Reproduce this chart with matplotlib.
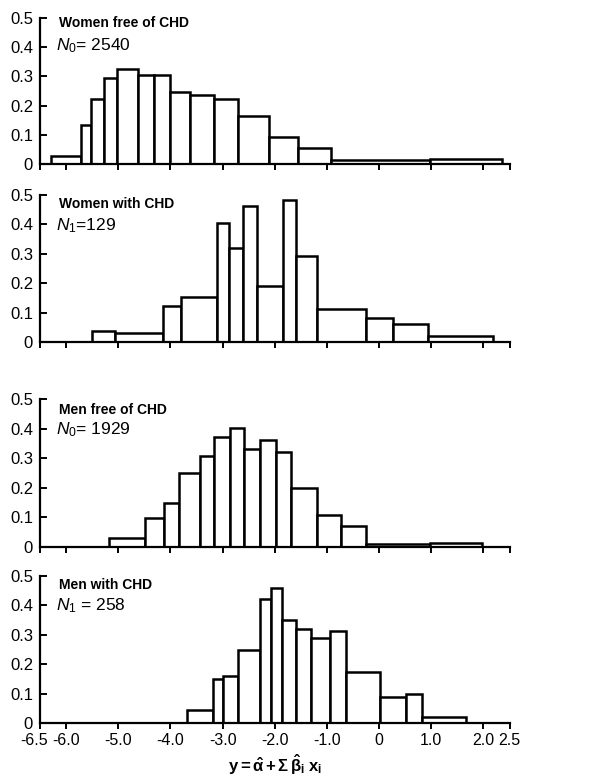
import numpy as np
import matplotlib
matplotlib.use("Agg")
import matplotlib.pyplot as plt
from matplotlib.transforms import ScaledTranslation

plt.rcParams["font.family"] = ["Liberation Sans", "DejaVu Sans"]
plt.rcParams["mathtext.fontset"] = "custom"
plt.rcParams["mathtext.rm"] = "Liberation Sans"
plt.rcParams["mathtext.it"] = "Liberation Sans:italic"
plt.rcParams["mathtext.bf"] = "Liberation Sans:bold"

# bin edges and relative frequencies
women_free_edges = [-6.29, -5.72, -5.52, -5.27, -5.02, -4.62, -4.32, -4.00, -3.62,
                    -3.16, -2.71, -2.12, -1.56, -0.92, 0.98, 2.35]
women_free_freq = [0.027, 0.135, 0.224, 0.294, 0.326, 0.304, 0.304, 0.248, 0.238,
                   0.222, 0.165, 0.092, 0.054, 0.014, 0.017]

women_chd_edges = [-5.51, -5.06, -4.15, -3.80, -3.11, -2.88, -2.60, -2.34, -1.85,
                   -1.60, -1.20, -0.25, 0.26, 0.93, 2.19]
women_chd_freq = [0.038, 0.031, 0.121, 0.152, 0.405, 0.320, 0.463, 0.191, 0.483,
                  0.294, 0.112, 0.081, 0.061, 0.020]

men_free_edges = [-5.17, -4.49, -4.13, -3.84, -3.44, -3.16, -2.86, -2.59, -2.28,
                  -1.98, -1.69, -1.20, -0.74, -0.25, 0.98, 1.97]
men_free_freq = [0.031, 0.097, 0.149, 0.250, 0.307, 0.371, 0.402, 0.332, 0.362,
                 0.320, 0.199, 0.108, 0.072, 0.011, 0.013]

men_chd_edges = [-3.68, -3.18, -3.00, -2.70, -2.29, -2.07, -1.87, -1.60, -1.30,
                 -0.94, -0.63, 0.01, 0.52, 0.82, 1.67]
men_chd_freq = [0.043, 0.149, 0.160, 0.249, 0.423, 0.460, 0.350, 0.319, 0.290,
                0.314, 0.172, 0.089, 0.098, 0.022]

titles = ["Women free of CHD", "Women with CHD", "Men free of CHD", "Men with CHD"]
counts = [r"$\mathit{N}_0$= 2540", r"$\mathit{N}_1$=129",
          r"$\mathit{N}_0$= 1929", r"$\mathit{N}_1$ = 258"]

x_ticks = [-6.5, -6.0, -5.0, -4.0, -3.0, -2.0, -1.0, 0, 1.0, 2.0, 2.5]
x_tick_labels = ["-6.5", "-6.0", "-5.0", "-4.0", "-3.0", "-2.0", "-1.0", "0",
                 "1.0", "2.0", "2.5"]
y_ticks = [0, 0.1, 0.2, 0.3, 0.4, 0.5]
y_tick_labels = ["0", "0.1", "0.2", "0.3", "0.4", "0.5"]

panels = [(women_free_edges, women_free_freq), (women_chd_edges, women_chd_freq),
          (men_free_edges, men_free_freq), (men_chd_edges, men_chd_freq)]

# axes boxes in figure fraction (left, bottom, width, height)
boxes = [(0.0667, 0.7900, 0.7826, 0.1869),
         (0.0667, 0.5621, 0.7826, 0.1882),
         (0.0667, 0.2996, 0.7826, 0.1895),
         (0.0667, 0.0743, 0.7826, 0.1882)]
title_y = [0.966, 0.940, 0.926, 0.939]
count_y = [0.81, 0.79, 0.79, 0.80]

fig = plt.figure(figsize=(6.0, 7.81), dpi=100)

for i, ((edges, freq), box) in enumerate(zip(panels, boxes)):
    ax = fig.add_axes(box)
    edges = np.asarray(edges)
    ax.bar(edges[:-1], freq, width=np.diff(edges), align="edge",
           facecolor="white", edgecolor="black", linewidth=1.8)
    ax.set_xlim(-6.5, 2.5)
    ax.set_ylim(0, 0.5)
    for s in ("top", "right"):
        ax.spines[s].set_visible(False)
    for s in ("left", "bottom"):
        ax.spines[s].set_linewidth(1.6)
    ax.set_yticks(y_ticks)
    ax.set_yticklabels(y_tick_labels, fontsize=12)
    ax.tick_params(axis="y", direction="in", length=5, width=1.4, pad=5)
    ax.set_xticks(x_ticks)
    ax.tick_params(axis="x", direction="out", length=4, width=1.4, pad=3)
    if i == 3:
        ax.set_xticklabels(x_tick_labels, fontsize=11.5)
        first = ax.get_xticklabels()[0]
        first.set_transform(first.get_transform()
                            + ScaledTranslation(-0.06, 0, fig.dpi_scale_trans))
        ax.set_xlabel(r"$\mathbf{y = \hat{\alpha} + \Sigma\,\hat{\beta}_i\; x_i}$",
                      fontsize=12, labelpad=4)
    else:
        ax.set_xticklabels([])
    ax.text(0.041, title_y[i], titles[i], transform=ax.transAxes, fontsize=10,
            fontweight="bold", va="center", ha="left")
    ax.text(0.035, count_y[i], counts[i], transform=ax.transAxes, fontsize=12.5,
            va="center", ha="left")

fig.savefig("out.png", dpi=100)
